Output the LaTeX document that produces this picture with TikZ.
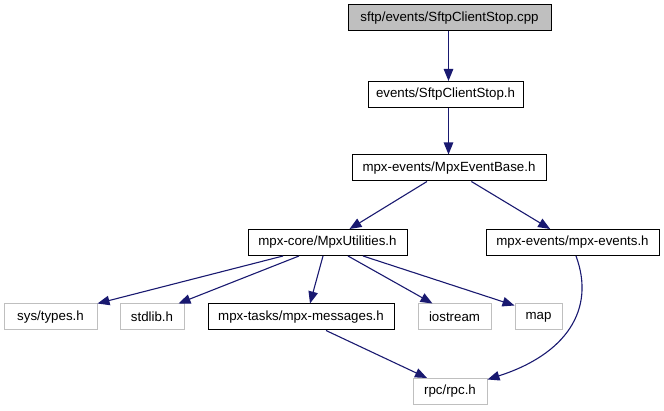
\documentclass[tikz,border=0pt]{standalone}
\usepackage{fontspec}
\setmainfont{Liberation Sans}
\usetikzlibrary{arrows.meta}
\definecolor{edgeblue}{RGB}{25,25,112}
\definecolor{rootgray}{RGB}{191,191,191}
\definecolor{sysgray}{RGB}{191,191,191}

\begin{document}
\begin{tikzpicture}[
    x=1pt, y=-1pt,
    file/.style={rectangle, draw=black, line width=1pt, minimum height=26pt,
                 inner sep=0pt, font=\fontsize{13.3}{15}\selectfont},
    sysfile/.style={file, draw=sysgray},
    rootfile/.style={file, fill=rootgray},
    dep/.style={-{Triangle[length=12pt, width=9.5pt]}, draw=edgeblue, line width=1.1pt}
]
\useasboundingbox (0,0) rectangle (664,411);

% --- top of the graph ---
\node[rootfile, minimum width=203pt] (cpp) at (449.5,18) {sftp/events/SftpClientStop.cpp};
\node[file, minimum width=155pt] (stoph) at (445.5,94.5) {events/SftpClientStop.h};
\node[file, minimum width=194pt] (ebase) at (449,168) {mpx-events/MpxEventBase.h};

% --- second level ---
\node[file, minimum width=159pt] (util) at (327.5,242.5) {mpx-core/MpxUtilities.h};
\node[file, minimum width=173pt] (events) at (572.5,242.5) {mpx-events/mpx-events.h};

% --- includes of MpxUtilities ---
\node[sysfile, minimum width=93pt] (types) at (50.5,317) {sys/types.h};
\node[sysfile, minimum width=64pt] (stdlib) at (152,317) {stdlib.h};
\node[file, minimum width=186pt] (msgs) at (301,317) {mpx-tasks/mpx-messages.h};
\node[sysfile, minimum width=73pt] (ios) at (454.5,317) {iostream};
\node[sysfile, minimum width=47pt] (map) at (538.5,317) {map};

% --- bottom ---
\node[sysfile, minimum width=74pt] (rpc) at (450,391.5) {rpc/rpc.h};

% edges
\draw[dep] ([xshift=-1pt]cpp.south) -- ([xshift=-1pt]cpp.south |- stoph.north);
\draw[dep] ([xshift=-0.5pt]stoph.south -| ebase) -- ([xshift=-0.5pt]ebase.north);
\draw[dep] (ebase) -- (util);
\draw[dep] (ebase) -- (events);
\draw[dep] ([xshift=-44.5pt]util.south) -- (types.north east);
\draw[dep] ([xshift=-28.5pt]util.south) -- ([xshift=-6pt]stdlib.north east);
\draw[dep] ([xshift=-4.5pt]util.south) -- ([xshift=9pt]msgs.north);
\draw[dep] ([xshift=20.5pt]util.south) -- ([xshift=-22pt]ios.north);
\draw[dep] ([xshift=35.5pt]util.south) -- ([yshift=-2pt]map.north west);
\draw[dep] ([xshift=25pt]msgs.south) -- ([xshift=-23pt]rpc.north);
\draw[dep] ([xshift=3.5pt]events.south) .. controls +(20,54) and +(78,-25) .. ([yshift=-1.5pt]rpc.north east);

\end{tikzpicture}
\end{document}
